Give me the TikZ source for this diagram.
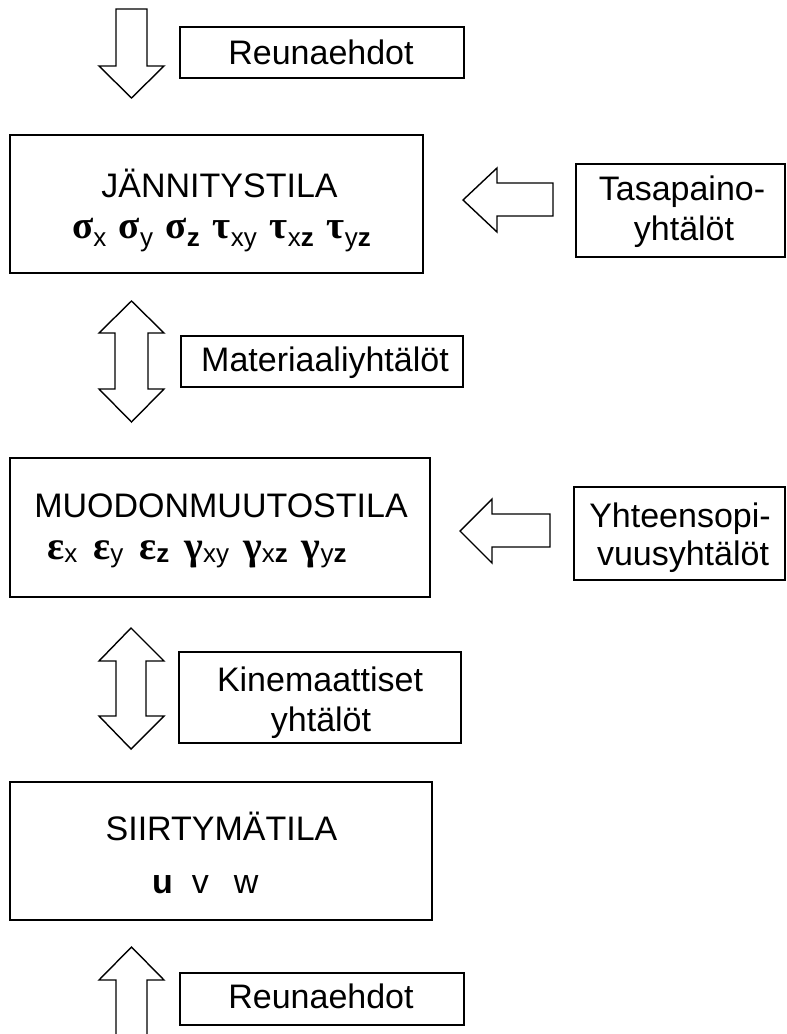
\documentclass[tikz,border=0pt]{standalone}
\usepackage{fontspec}
\setmainfont{Liberation Sans}
\newfontfamily\grk{Liberation Serif}
% sigma/tau row: large Greek, lowered subscript
\newcommand{\gsA}[2]{{\fontsize{39}{40}\selectfont\grk\bfseries #1}\raisebox{-8pt}{\fontsize{26}{26}\selectfont #2}}
% epsilon/gamma row
\newcommand{\gsB}[2]{{\fontsize{40}{40}\selectfont\grk\bfseries #1}\raisebox{-3pt}{\fontsize{26}{26}\selectfont #2}}
\begin{document}
\begin{tikzpicture}[x=1pt,y=-1pt,
  box/.style={draw=black,line width=2pt,inner sep=0pt,fill=white},
  thinbox/.style={draw=black,line width=1.4pt,inner sep=0pt,fill=white},
  txt/.style={inner sep=0pt,anchor=base,font=\fontsize{34}{40}\selectfont},
  blk/.style={draw=black,line width=1.4pt,line join=miter,fill=white}]
\useasboundingbox (0,0) rectangle (787,1034);
% block arrows
\draw[blk] (116,9) -- (147,9) -- (147,66) -- (164,66) -- (131.5,98) -- (99,66) -- (116,66) -- cycle;
\draw[blk] (553,183) -- (497,183) -- (497,168) -- (463,200) -- (497,232) -- (497,216) -- (553,216) -- cycle;
\draw[blk] (131.5,301) -- (164,333) -- (148,333) -- (148,389) -- (164,389) -- (131.5,422) -- (99,389) -- (115,389) -- (115,333) -- (99,333) -- cycle;
\draw[blk] (550,514) -- (492,514) -- (492,499) -- (460,531) -- (492,563) -- (492,547) -- (550,547) -- cycle;
\draw[blk] (131,628) -- (164,661) -- (146,661) -- (146,716) -- (164,716) -- (131,749) -- (99,716) -- (116,716) -- (116,661) -- (99,661) -- cycle;
\draw[blk] (116,1040) -- (116,980) -- (99,980) -- (131.5,947) -- (164,980) -- (147,980) -- (147,1040);
% boxes
\node[box,minimum width=284pt,minimum height=51pt] (reu1) at (322,52.5) {};
\node[box,minimum width=413pt,minimum height=138pt] (jan) at (216.5,204) {};
\node[box,minimum width=209pt,minimum height=93pt] (tas) at (680.5,210.5) {};
\node[thinbox,minimum width=282pt,minimum height=51pt] (mat) at (322,361.5) {};
\node[box,minimum width=420pt,minimum height=139pt] (muo) at (220,527.5) {};
\node[box,minimum width=211pt,minimum height=93pt] (yht) at (679.5,533.5) {};
\node[box,minimum width=282pt,minimum height=91pt] (kin) at (320,697.5) {};
\node[box,minimum width=422pt,minimum height=138pt] (sii) at (221,851) {};
\node[box,minimum width=284pt,minimum height=52pt] (reu2) at (322,999) {};
% texts
\node[txt] (reu1t) at (321,64) {Reunaehdot};
\node[txt] (jant) at (219.5,197) {JÄNNITYSTILA};
\node[txt,anchor=base west] (jans) at (72,238) {\gsA{σ}{x}\hspace{12.5pt}\gsA{σ}{y}\hspace{12.5pt}\gsA{σ}{\textbf{z}}\hspace{13pt}\gsA{τ}{xy}\hspace{13pt}\gsA{τ}{x\textbf{z}}\hspace{13pt}\gsA{τ}{y\textbf{z}}};
\node[txt] (tast1) at (682,200) {Tasapaino-};
\node[txt] (tast2) at (684,240) {yhtälöt};
\node[txt] (matt) at (325,371) {Materiaaliyhtälöt};
\node[txt] (muot) at (221,517) {MUODONMUUTOSTILA};
\node[txt,anchor=base west] (muos) at (47,559) {\gsB{ε}{x}\hspace{16pt}\gsB{ε}{y}\hspace{16pt}\gsB{ε}{\textbf{z}}\hspace{15pt}\gsB{γ}{xy}\hspace{14pt}\gsB{γ}{x\textbf{z}}\hspace{14pt}\gsB{γ}{y\textbf{z}}};
\node[txt] (yhtt1) at (680,527) {Yhteensopi-};
\node[txt] (yhtt2) at (683,565) {vuusyhtälöt};
\node[txt] (kint1) at (320,691) {Kinemaattiset};
\node[txt] (kint2) at (321,731) {yhtälöt};
\node[txt] (siit) at (221.5,840) {SIIRTYMÄTILA};
\node[txt,anchor=base west] (siis) at (152,893) {\textbf{u}\hspace{19pt}v\hspace{25pt}w};
\node[txt] (reu2t) at (321,1008) {Reunaehdot};
\end{tikzpicture}
\end{document}
